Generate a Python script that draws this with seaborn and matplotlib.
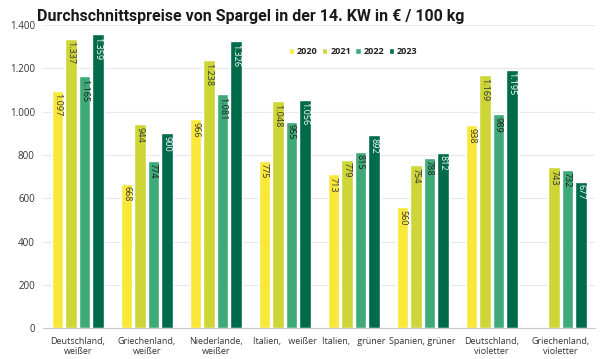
import numpy as np
import pandas as pd
import matplotlib
matplotlib.use("Agg")
import matplotlib.pyplot as plt
import seaborn as sns

# data
categories = ["Deutschland,\nweißer", "Griechenland,\nweißer", "Niederlande,\nweißer",
              "Italien,   weißer", "Italien,   grüner", "Spanien, grüner",
              "Deutschland,\nvioletter", "Griechenland,\nvioletter"]
years = ["2020", "2021", "2022", "2023"]
prices_2020 = [1097, 668, 966, 775, 713, 560, 938, np.nan]
prices_2021 = [1337, 944, 1238, 1048, 779, 754, 1169, 743]
prices_2022 = [1165, 774, 1081, 955, 815, 788, 989, 732]
prices_2023 = [1359, 900, 1326, 1056, 892, 812, 1195, 677]
colors = ["#FAE838", "#CDD636", "#3DAA78", "#006B4A"]
label_colors = ["#333333", "#333333", "#1a1a1a", "#ffffff"]

rows = []
for yr, vals in zip(years, [prices_2020, prices_2021, prices_2022, prices_2023]):
    for cat, v in zip(categories, vals):
        rows.append({"Kategorie": cat, "Jahr": yr, "Preis": v})
df = pd.DataFrame(rows)

sns.set_style("white")
plt.rcParams['font.family'] = ['Open Sans', 'DejaVu Sans']

fig = plt.figure(figsize=(6, 3.59), dpi=100)
ax = fig.add_axes([0.072, 0.085, 0.92, 0.845])

sns.barplot(data=df, x="Kategorie", y="Preis", hue="Jahr", palette=colors,
            width=0.78, gap=0.14, ax=ax, saturation=1)

def fmt(v):
    return f"{int(v):,}".replace(",", ".")

for cont, lc in zip(ax.containers, label_colors):
    for bar in cont:
        h = bar.get_height()
        if np.isnan(h) or h == 0:
            continue
        ax.text(bar.get_x() + bar.get_width() / 2, h - 12, fmt(h),
                rotation=270, ha='center', va='top', fontsize=6.5, color=lc)

ax.set_ylim(0, 1400)
ax.set_xlim(-0.5, len(categories) - 0.5)
ax.set_yticks(range(0, 1401, 200))
ax.set_yticklabels([fmt(t) for t in range(0, 1401, 200)], fontsize=7, color="#333333")
ax.yaxis.grid(True, color="#e8e8e8", linewidth=0.8)
ax.set_axisbelow(True)
ax.tick_params(axis='y', length=0, pad=6)
ax.tick_params(axis='x', which='major', length=0, labelsize=6.5, colors="#333333", pad=6)
ax.set_xticks(np.arange(-0.5, len(categories)), minor=True)
ax.tick_params(axis='x', which='minor', length=3, color="#cccccc")
ax.set_xlabel("")
ax.set_ylabel("")
for s in ["top", "right", "left"]:
    ax.spines[s].set_visible(False)
ax.spines["bottom"].set_color("#cccccc")

leg = ax.legend(loc="upper left", bbox_to_anchor=(0.43, 0.955), ncol=4, frameon=False,
                fontsize=6.5, handlelength=0.6, handleheight=0.6, columnspacing=0.5,
                handletextpad=0.3)
for t in leg.get_texts():
    t.set_fontweight("bold")
    t.set_color("#222222")

fig.text(0.062, 0.955, "Durchschnittspreise von Spargel in der 14. KW in € / 100 kg",
         fontsize=11.5, fontweight="bold", color="#1a1a1a", va="center",
         family=["Roboto", "DejaVu Sans"])

fig.savefig("out.png", dpi=100)
